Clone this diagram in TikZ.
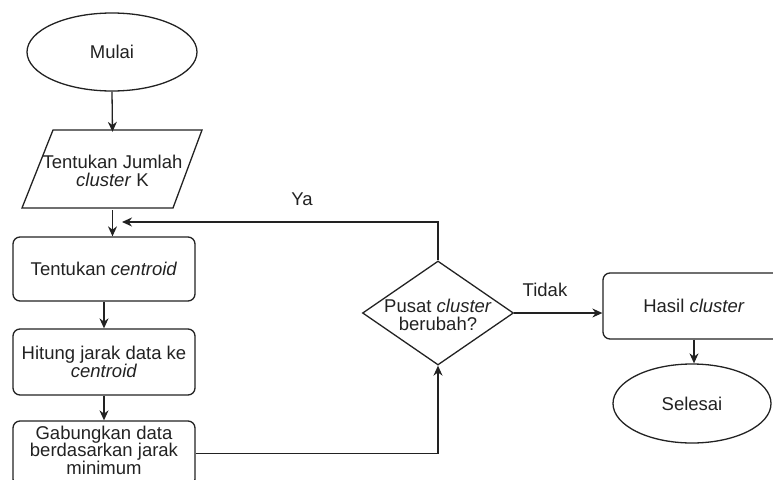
\documentclass[tikz,border=0pt]{standalone}
\usepackage{fontspec}
\setmainfont{Liberation Sans}
\usetikzlibrary{shapes.geometric,arrows.meta}
\definecolor{ln}{HTML}{222222}
\definecolor{tx}{HTML}{222222}
\tikzset{
  base/.style={draw=ln, line width=1.3pt, text=tx, align=center, font=\fontsize{18.5}{18.5}\selectfont, inner sep=0pt},
  term/.style={base, ellipse, minimum width=#1, minimum height=78pt},
  proc/.style={base, rectangle, rounded corners=7pt, minimum width=182pt, minimum height=#1},
  dec/.style={base, diamond, minimum width=151pt, minimum height=104pt, aspect=1.45},
  conn/.style={draw=ln, line width=1.3pt, -{Stealth[length=10pt,width=9pt]}},
  lab/.style={text=tx, font=\fontsize{18.5}{18.5}\selectfont, inner sep=0pt}
}
\begin{document}
\begin{tikzpicture}[x=1pt,y=-1pt]
\useasboundingbox (0,0) rectangle (773,479);
\clip (0,0) rectangle (773,479);
\node[term=170pt] (mulai) at (112,52) {Mulai};
\draw[draw=ln, line width=1.3pt] (53,130) -- (202,130) -- (173,208) -- (22,208) -- cycle;
\node[lab, align=center, minimum width=150pt, minimum height=78pt] (para) at (112.5,171) {Tentukan Jumlah\\\textit{cluster} K};
\node[proc=64pt] (r1) at (104,269) {Tentukan \textit{centroid}};
\node[proc=66pt] (r2) at (104,362) {Hitung jarak data ke\\\textit{centroid}};
\node[proc=65pt] (r3) at (104,453.5) {};
\node[lab, align=center, font=\fontsize{18.5}{17.5}\selectfont] (r3t) at (104,450) {Gabungkan data\\berdasarkan jarak\\minimum};
\node[dec] (d) at (438,313) {};
\node[lab, align=center] (dt) at (438,315) {Pusat \textit{cluster}\\berubah?};
\node[proc=66pt] (hasil) at (694,306) {Hasil \textit{cluster}};
\node[term=158pt, minimum height=79pt] (selesai) at (692,403.5) {Selesai};
\coordinate (yaend) at (122,222);
\draw[conn] (mulai.south) -- (para.north);
\draw[conn] (para.south) -- (para.south |- r1.north);
\draw[conn] (r1) -- (r2);
\draw[conn] (r2) -- (r3);
\draw[conn] (r3.east) -- (d.south |- r3.east) -- (d.south);
\draw[conn] (d.north) -- (d.north |- yaend) -- (yaend);
\node[lab] (ya) at (302,199) {Ya};
\draw[conn] (d.east) -- (d.east -| hasil.west);
\node[lab] (tidak) at (545,290) {Tidak};
\draw[conn] (hasil.south) -- (hasil.south |- selesai.north);
\end{tikzpicture}
\end{document}
